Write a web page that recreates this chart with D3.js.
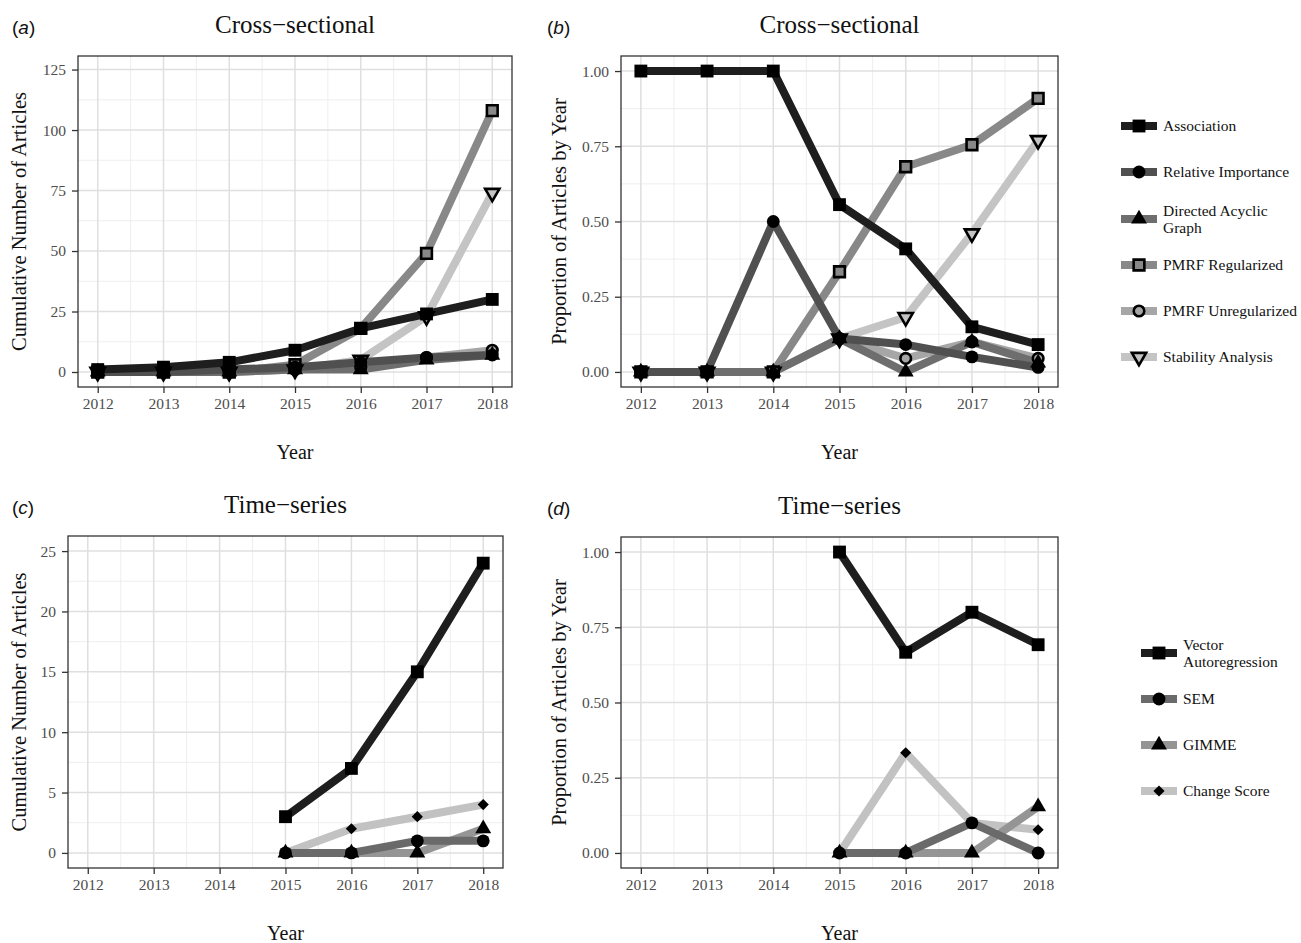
<!DOCTYPE html>
<html>
<head>
<meta charset="utf-8">
<script src="https://cdn.jsdelivr.net/npm/d3@7/dist/d3.min.js"></script>
<style>
  html, body { margin: 0; padding: 0; background: #fff; }
  svg { display: block; }
</style>
</head>
<body>
<svg id="chart" width="1301" height="943"></svg>
<script>
// ---------------- DATA ----------------
const years = [2012, 2013, 2014, 2015, 2016, 2017, 2018];

// Cross-sectional series names
const csNames = ["Association", "Relative Importance", "Directed Acyclic Graph",
                 "PMRF Regularized", "PMRF Unregularized", "Stability Analysis"];
// Panel (a): cumulative number of articles
const cumAssociation = [1, 2, 4, 9, 18, 24, 30];
const cumRelImportance = [0, 0, 1, 2, 4, 6, 7];
const cumDAG = [0, 0, 0, 1, 1, 5, 7];
const cumPMRFReg = [0, 0, 0, 3, 18, 49, 108];
const cumPMRFUnreg = [0, 0, 0, 1, 2, 6, 9];
const cumStability = [0, 0, 0, 1, 5, 23, 74];
// Panel (b): proportion of articles by year
const propAssociation = [1, 1, 1, 0.556, 0.409, 0.15, 0.091];
const propRelImportance = [0, 0, 0.5, 0.111, 0.091, 0.05, 0.015];
const propDAG = [0, 0, 0, 0.111, 0, 0.1, 0.03];
const propPMRFReg = [0, 0, 0, 0.333, 0.682, 0.755, 0.909];
const propPMRFUnreg = [0, 0, 0, 0.111, 0.045, 0.1, 0.045];
const propStability = [0, 0, 0, 0.111, 0.182, 0.46, 0.77];

// Time-series series names
const tsNames = ["Vector Autoregression", "SEM", "GIMME", "Change Score"];
// Panel (c): cumulative number of articles
const cumVAR = [null, null, null, 3, 7, 15, 24];
const cumSEM = [null, null, null, 0, 0, 1, 1];
const cumGIMME = [null, null, null, 0, 0, 0, 2];
const cumChange = [null, null, null, 0, 2, 3, 4];
// Panel (d): proportion of articles by year
const propVAR = [null, null, null, 1, 0.667, 0.8, 0.692];
const propSEM = [null, null, null, 0, 0, 0.1, 0];
const propGIMME = [null, null, null, 0, 0, 0, 0.154];
const propChange = [null, null, null, 0, 0.333, 0.1, 0.077];

// Tick values
const xTicks = years;
const cumTicksA = [0, 25, 50, 75, 100, 125];
const cumTicksC = [0, 5, 10, 15, 20, 25];
const propTicks = [0, 0.25, 0.5, 0.75, 1];

// ---------------- STYLE ----------------
const csColors = ["#1e1e1e", "#505050", "#6e6e6e", "#888888", "#a6a6a6", "#c4c4c4"];
const csShapes = ["square", "circle", "triangle", "squareOpen", "circleOpen", "triangleDownOpen"];
const tsColors = ["#1e1e1e", "#6a6a6a", "#959595", "#c2c2c2"];
const tsShapes = ["square", "circle", "triangle", "diamond"];

const SERIF = "'Liberation Serif', 'Times New Roman', serif";
const SANS = "'Liberation Sans', Arial, sans-serif";

const svg = d3.select("#chart");

function symbolPath(shape) {
  switch (shape) {
    case "square": return d3.symbol(d3.symbolSquare, 165)();
    case "squareOpen": return d3.symbol(d3.symbolSquare, 115)();
    case "circle": return d3.symbol(d3.symbolCircle, 130)();
    case "circleOpen": return d3.symbol(d3.symbolCircle, 88)();
    case "triangle": return d3.symbol(d3.symbolTriangle, 110)();
    case "triangleDownOpen": return d3.symbol(d3.symbolTriangle, 88)();
    case "diamond": return d3.symbol(d3.symbolSquare, 62)();
  }
}
function drawMarker(g, shape, color, x, y) {
  const open = shape.endsWith("Open");
  let rot = 0;
  if (shape === "triangleDownOpen") rot = 180;
  if (shape === "diamond") rot = 45;
  g.append("path")
    .attr("d", symbolPath(shape))
    .attr("transform", `translate(${x},${y}) rotate(${rot})`)
    .attr("fill", open ? color : "#000")
    .attr("stroke", "#000")
    .attr("stroke-width", open ? 2.6 : 0)
    .attr("stroke-linejoin", "miter");
}

function minorBetween(ticks) {
  const m = [];
  for (let i = 0; i < ticks.length - 1; i++) m.push((ticks[i] + ticks[i + 1]) / 2);
  return m;
}

function drawPanel(cfg) {
  const g = svg.append("g");
  const x = d3.scaleLinear().domain([2011.7, 2018.3]).range([cfg.left, cfg.right]);
  const y = d3.scaleLinear().domain(cfg.yDomain).range([cfg.bottom, cfg.top]);

  g.append("rect").attr("x", cfg.left).attr("y", cfg.top)
    .attr("width", cfg.right - cfg.left).attr("height", cfg.bottom - cfg.top)
    .attr("fill", "#fff");

  const minorX = minorBetween(xTicks);
  const minorY = minorBetween(cfg.yTicks);
  g.selectAll(null).data(minorX).enter().append("line")
    .attr("x1", d => x(d)).attr("x2", d => x(d))
    .attr("y1", cfg.top).attr("y2", cfg.bottom)
    .attr("stroke", "#ececec").attr("stroke-width", 0.9);
  g.selectAll(null).data(minorY).enter().append("line")
    .attr("y1", d => y(d)).attr("y2", d => y(d))
    .attr("x1", cfg.left).attr("x2", cfg.right)
    .attr("stroke", "#ececec").attr("stroke-width", 0.9);
  g.selectAll(null).data(xTicks).enter().append("line")
    .attr("x1", d => x(d)).attr("x2", d => x(d))
    .attr("y1", cfg.top).attr("y2", cfg.bottom)
    .attr("stroke", "#dfdfdf").attr("stroke-width", 1.5);
  g.selectAll(null).data(cfg.yTicks).enter().append("line")
    .attr("y1", d => y(d)).attr("y2", d => y(d))
    .attr("x1", cfg.left).attr("x2", cfg.right)
    .attr("stroke", "#dfdfdf").attr("stroke-width", 1.5);

  const clipId = "clip" + cfg.id;
  svg.append("clipPath").attr("id", clipId).append("rect")
    .attr("x", cfg.left).attr("y", cfg.top)
    .attr("width", cfg.right - cfg.left).attr("height", cfg.bottom - cfg.top);
  const plot = g.append("g").attr("clip-path", `url(#${clipId})`);

  const line = d3.line()
    .defined(d => d.v !== null)
    .x(d => x(d.year)).y(d => y(d.v));

  const series = cfg.series.map(s => ({
    name: s.name, color: s.color, shape: s.shape,
    pts: years.map((yr, j) => ({ year: yr, v: s.values[j] }))
  }));
  const drawOrder = series.slice().reverse();

  drawOrder.forEach(s => {
    plot.append("path").datum(s.pts)
      .attr("d", line)
      .attr("fill", "none")
      .attr("stroke", s.color)
      .attr("stroke-width", 8)
      .attr("stroke-linejoin", "round");
  });
  drawOrder.forEach(s => {
    s.pts.filter(p => p.v !== null).forEach(p => drawMarker(plot, s.shape, s.color, x(p.year), y(p.v)));
  });

  g.append("rect").attr("x", cfg.left).attr("y", cfg.top)
    .attr("width", cfg.right - cfg.left).attr("height", cfg.bottom - cfg.top)
    .attr("fill", "none").attr("stroke", "#333").attr("stroke-width", 1.3);

  const xAxis = d3.axisBottom(x).tickValues(xTicks).tickFormat(d3.format("d"))
    .tickSize(6).tickPadding(5);
  const gx = g.append("g").attr("transform", `translate(0,${cfg.bottom})`).call(xAxis);
  const yAxis = d3.axisLeft(y).tickValues(cfg.yTicks).tickFormat(cfg.yFormat)
    .tickSize(6).tickPadding(6);
  const gy = g.append("g").attr("transform", `translate(${cfg.left},0)`).call(yAxis);
  [gx, gy].forEach(a => {
    a.select(".domain").remove();
    a.selectAll(".tick line").attr("stroke", "#333").attr("stroke-width", 1.3);
    a.selectAll(".tick text").attr("fill", "#4d4d4d")
      .style("font-family", SERIF).style("font-size", "15.5px");
  });

  const cx = (cfg.left + cfg.right) / 2;
  const cy = (cfg.top + cfg.bottom) / 2;
  g.append("text").attr("x", cx).attr("y", cfg.top - 23)
    .attr("text-anchor", "middle")
    .style("font-family", SERIF).style("font-size", "25px").attr("fill", "#111")
    .text(cfg.title);
  const lab = g.append("text").attr("x", cfg.labelX).attr("y", cfg.top - 22)
    .style("font-family", SANS).style("font-size", "19px").attr("fill", "#111");
  lab.append("tspan").text("(");
  lab.append("tspan").style("font-style", "italic").text(cfg.letter);
  lab.append("tspan").text(")");
  g.append("text").attr("x", cx).attr("y", cfg.bottom + 72)
    .attr("text-anchor", "middle")
    .style("font-family", SERIF).style("font-size", "20px").attr("fill", "#111")
    .text("Year");
  g.append("text")
    .attr("transform", `translate(${cfg.yTitleX},${cy}) rotate(-90)`)
    .attr("text-anchor", "middle")
    .style("font-family", SERIF).style("font-size", "20.5px").attr("fill", "#111")
    .text(cfg.yTitle);
}

function drawLegend(names, colors, shapes, keyX, labelX, rows) {
  const g = svg.append("g");
  names.forEach((n, i) => {
    const r = rows[i];
    g.append("line").attr("x1", keyX - 18).attr("x2", keyX + 18)
      .attr("y1", r.y).attr("y2", r.y)
      .attr("stroke", colors[i]).attr("stroke-width", 8);
    drawMarker(g, shapes[i], colors[i], keyX, r.y);
    const t = g.append("text").attr("x", labelX)
      .style("font-family", SERIF).style("font-size", "15.5px").attr("fill", "#111");
    r.lines.forEach((ln, k) => {
      t.append("tspan").attr("x", labelX)
        .attr("y", r.y + 5 + (k - (r.lines.length - 1) / 2) * 17)
        .text(ln);
    });
  });
}

// ---------------- PANELS ----------------
drawPanel({
  id: "a", letter: "a", title: "Cross\u2212sectional", yTitle: "Cumulative Number of Articles",
  left: 78, right: 512, top: 56, bottom: 387, labelX: 12, yTitleX: 26,
  yDomain: [-6.2, 130.6], yTicks: cumTicksA, yFormat: d3.format("d"),
  series: [
    { name: csNames[0], values: cumAssociation, color: csColors[0], shape: csShapes[0] },
    { name: csNames[1], values: cumRelImportance, color: csColors[1], shape: csShapes[1] },
    { name: csNames[2], values: cumDAG, color: csColors[2], shape: csShapes[2] },
    { name: csNames[3], values: cumPMRFReg, color: csColors[3], shape: csShapes[3] },
    { name: csNames[4], values: cumPMRFUnreg, color: csColors[4], shape: csShapes[4] },
    { name: csNames[5], values: cumStability, color: csColors[5], shape: csShapes[5] }
  ]
});
drawPanel({
  id: "b", letter: "b", title: "Cross\u2212sectional", yTitle: "Proportion of Articles by Year",
  left: 621, right: 1058, top: 56, bottom: 387, labelX: 547, yTitleX: 566,
  yDomain: [-0.05, 1.05], yTicks: propTicks, yFormat: d3.format(".2f"),
  series: [
    { name: csNames[0], values: propAssociation, color: csColors[0], shape: csShapes[0] },
    { name: csNames[1], values: propRelImportance, color: csColors[1], shape: csShapes[1] },
    { name: csNames[2], values: propDAG, color: csColors[2], shape: csShapes[2] },
    { name: csNames[3], values: propPMRFReg, color: csColors[3], shape: csShapes[3] },
    { name: csNames[4], values: propPMRFUnreg, color: csColors[4], shape: csShapes[4] },
    { name: csNames[5], values: propStability, color: csColors[5], shape: csShapes[5] }
  ]
});
drawPanel({
  id: "c", letter: "c", title: "Time\u2212series", yTitle: "Cumulative Number of Articles",
  left: 68, right: 503, top: 536, bottom: 868, labelX: 12, yTitleX: 26,
  yDomain: [-1.25, 26.25], yTicks: cumTicksC, yFormat: d3.format("d"),
  series: [
    { name: tsNames[0], values: cumVAR, color: tsColors[0], shape: tsShapes[0] },
    { name: tsNames[1], values: cumSEM, color: tsColors[1], shape: tsShapes[1] },
    { name: tsNames[2], values: cumGIMME, color: tsColors[2], shape: tsShapes[2] },
    { name: tsNames[3], values: cumChange, color: tsColors[3], shape: tsShapes[3] }
  ]
});
drawPanel({
  id: "d", letter: "d", title: "Time\u2212series", yTitle: "Proportion of Articles by Year",
  left: 621, right: 1058, top: 537, bottom: 868, labelX: 547, yTitleX: 566,
  yDomain: [-0.05, 1.05], yTicks: propTicks, yFormat: d3.format(".2f"),
  series: [
    { name: tsNames[0], values: propVAR, color: tsColors[0], shape: tsShapes[0] },
    { name: tsNames[1], values: propSEM, color: tsColors[1], shape: tsShapes[1] },
    { name: tsNames[2], values: propGIMME, color: tsColors[2], shape: tsShapes[2] },
    { name: tsNames[3], values: propChange, color: tsColors[3], shape: tsShapes[3] }
  ]
});

// ---------------- LEGENDS ----------------
drawLegend(csNames, csColors, csShapes, 1139, 1163, [
  { y: 126, lines: ["Association"] },
  { y: 172, lines: ["Relative Importance"] },
  { y: 219, lines: ["Directed Acyclic", "Graph"] },
  { y: 265, lines: ["PMRF Regularized"] },
  { y: 311, lines: ["PMRF Unregularized"] },
  { y: 357, lines: ["Stability Analysis"] }
]);
drawLegend(tsNames, tsColors, tsShapes, 1159, 1183, [
  { y: 653, lines: ["Vector", "Autoregression"] },
  { y: 699, lines: ["SEM"] },
  { y: 745, lines: ["GIMME"] },
  { y: 791, lines: ["Change Score"] }
]);
</script>
</body>
</html>
